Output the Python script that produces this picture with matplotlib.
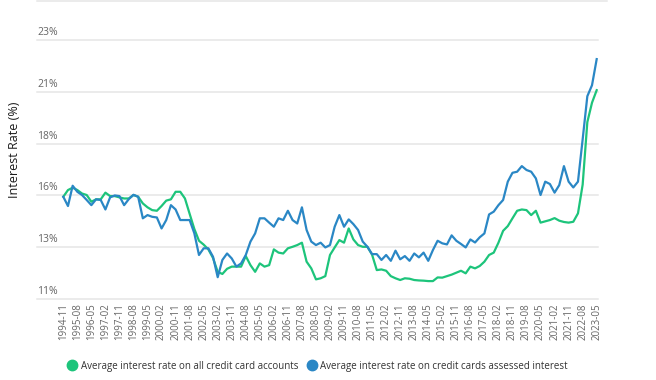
import numpy as np
import pandas as pd
import matplotlib
matplotlib.use("Agg")
import matplotlib.pyplot as plt
from matplotlib.lines import Line2D

plt.rcParams['font.family'] = ['Open Sans', 'DejaVu Sans']

# quarterly observations, 1994-11 .. 2023-05
dates = pd.date_range("1994-11-01", "2023-05-01", freq="3MS")
date_labels = list(dates.strftime("%Y-%m"))

# Average interest rate on all credit card accounts (%)
all_accounts = [
    15.74, 16.05, 16.16, 16.05, 15.89, 15.82, 15.51, 15.62, 15.62, 15.93,
    15.77, 15.77, 15.71, 15.66, 15.66, 15.82, 15.74, 15.43, 15.25, 15.12,
    15.09, 15.31, 15.56, 15.62, 15.97, 15.97, 15.66, 14.95, 14.25, 13.70,
    13.52, 13.30, 12.90, 12.26, 12.16, 12.40, 12.50, 12.50, 12.50, 12.99,
    12.57, 12.26, 12.65, 12.50, 12.57, 13.30, 13.15, 13.11, 13.35, 13.42,
    13.50, 13.61, 12.73, 12.42, 11.91, 11.96, 12.06, 13.04, 13.39, 13.73,
    13.61, 14.27, 13.76, 13.50, 13.42, 13.42, 13.05, 12.34, 12.37, 12.31,
    12.06, 11.96, 11.88, 11.96, 11.94, 11.88, 11.86, 11.85, 11.83, 11.83,
    12.00, 11.99, 12.06, 12.13, 12.22, 12.31, 12.19, 12.50, 12.42, 12.53,
    12.73, 13.04, 13.15, 13.61, 14.16, 14.38, 14.74, 15.09, 15.15, 15.12,
    14.89, 15.09, 14.54, 14.60, 14.66, 14.75, 14.63, 14.57, 14.54, 14.58,
    14.97, 16.30, 19.20, 20.10, 20.68,
]

# Average interest rate on credit cards assessed interest (%)
assessed = [
    15.74, 15.31, 16.25, 15.97, 15.82, 15.59, 15.35, 15.62, 15.59, 15.15,
    15.71, 15.80, 15.77, 15.35, 15.63, 15.83, 15.74, 14.74, 14.89, 14.81,
    14.78, 14.27, 14.66, 15.35, 15.15, 14.66, 14.66, 14.66, 14.05, 13.04,
    13.35, 13.35, 12.96, 12.01, 12.81, 13.11, 12.88, 12.50, 12.65, 13.04,
    13.66, 14.04, 14.74, 14.74, 14.54, 14.35, 14.74, 14.66, 15.09, 14.66,
    14.50, 15.25, 14.20, 13.66, 13.50, 13.61, 13.39, 13.50, 14.35, 14.89,
    14.35, 14.69, 14.47, 14.20, 13.66, 13.42, 13.08, 13.08, 12.81, 13.04,
    12.77, 13.24, 12.84, 12.99, 12.77, 13.11, 12.93, 13.15, 12.77, 13.27,
    13.70, 13.58, 13.53, 13.95, 13.70, 13.55, 13.39, 13.76, 13.62, 13.86,
    14.04, 14.92, 15.05, 15.35, 15.59, 16.44, 16.85, 16.90, 17.16, 16.98,
    16.90, 16.59, 15.82, 16.44, 16.33, 15.93, 16.28, 17.16, 16.44, 16.17,
    16.44, 18.40, 20.40, 20.91, 22.12,
]

y_ticks = [11, 13.4, 15.8, 18.2, 20.6, 23]
y_tick_labels = ["11%", "13%", "16%", "18%", "21%", "23%"]

green = "#1dc47b"
blue = "#2a87c5"

fig = plt.figure(figsize=(6.56, 3.8), dpi=100)
ax = fig.add_axes([37 / 656, 1 - 299 / 380, 561 / 656, 299 / 380])

x = np.arange(len(dates))
ax.plot(x, all_accounts, color=green, lw=1.6, zorder=3)
ax.plot(x, assessed, color=blue, lw=1.6, zorder=4)

ax.set_xlim(-5.62, 114.28)
ax.set_ylim(11, 24.86)

# y axis: gridlines with labels sitting on top of them
ax.set_yticks(y_ticks)
ax.set_yticklabels([])
ax.tick_params(axis="y", length=0)
ax.grid(axis="y", color="#e6e6e6", lw=1.1)
for gl in ax.get_ygridlines():
    gl.set_clip_on(False)
for v, lab in zip(y_ticks, y_tick_labels):
    ax.annotate(lab, xy=(0, v), xycoords=("axes fraction", "data"),
                xytext=(0, 1.5), textcoords="offset points",
                ha="left", va="bottom", fontsize=7.5, color="#666666")

# x axis: every third quarter
ax.set_xticks(x[::3])
ax.set_xticklabels(date_labels[::3], rotation=90, fontsize=7, color="#666666")
ax.tick_params(axis="x", length=0, pad=3)

for s in ax.spines.values():
    s.set_visible(False)

ax.set_ylabel("Interest Rate (%)", fontsize=9, color="#1a1a1a")
ax.yaxis.set_label_coords(-0.028, 0.5)

# thin rule along the top edge
fig.add_artist(Line2D([37 / 656, 607 / 656], [0.998, 0.998],
                      transform=fig.transFigure, color="#e6e6e6", lw=1.1))

handles = [
    Line2D([], [], ls="none", marker="o", ms=7.5, color=green),
    Line2D([], [], ls="none", marker="o", ms=7.5, color=blue),
]
fig.legend(handles,
           ["Average interest rate on all credit card accounts",
            "Average interest rate on credit cards assessed interest"],
           loc="center", bbox_to_anchor=(317 / 656, 1 - 366 / 380), ncol=2,
           frameon=False, fontsize=7, labelcolor="#333333",
           handletextpad=0.3, columnspacing=0.8, handlelength=1.2)

fig.savefig("out.png", dpi=100)
